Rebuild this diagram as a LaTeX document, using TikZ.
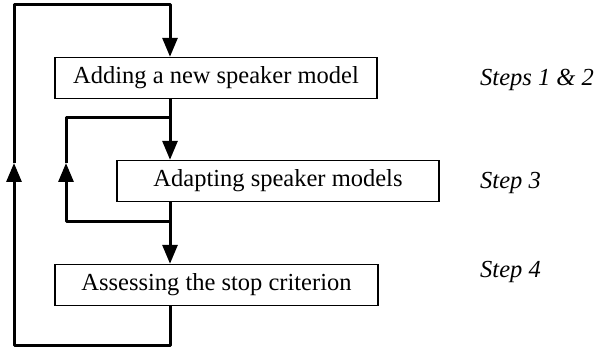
\documentclass[tikz,border=0pt]{standalone}
\usepackage{fontspec}
\setmainfont{Liberation Serif}
\usetikzlibrary{arrows.meta}
\begin{document}
\begin{tikzpicture}[x=1pt,y=-1pt,
  box/.style={draw,line width=1.4pt,minimum height=41pt,inner sep=0pt,font=\fontsize{24.5}{28}\selectfont},
  steplabel/.style={anchor=west,inner sep=0pt,font=\fontsize{24.5}{28}\selectfont\itshape},
  wire/.style={line width=3pt,line join=round},
  flow/.style={wire,-{Triangle[length=19pt,width=15pt]}}]
\useasboundingbox (0,0) rectangle (596,352);
% process boxes
\node[box,minimum width=322pt] (add) at (216,78) {Adding a new speaker model};
\node[box,minimum width=322pt] (adapt) at (278,181) {Adapting speaker models};
\node[box,minimum width=323pt] (assess) at (216.5,285) {Assessing the stop criterion};
% step labels
\node[steplabel] (s12) at (480,80) {Steps 1 \& 2};
\node[steplabel] (s3) at (480,183) {Step 3};
\node[steplabel] (s4) at (480,272) {Step 4};
% trunk and loop coordinates
\coordinate (trunk) at (170,0);
\coordinate (top) at (170,5);
\coordinate (outl) at (14,5);
\coordinate (outtip) at (14,163);
\coordinate (outb) at (14,345);
\coordinate (bot) at (170,345);
\coordinate (splitA) at (170,118);
\coordinate (splitB) at (170,222);
\coordinate (inl) at (66,118);
\coordinate (intip) at (66,163);
\coordinate (inb) at (66,222);
% main flow
\draw[flow] (add.south -| trunk) -- (adapt.north -| trunk);
\draw[flow] (adapt.south -| trunk) -- (assess.north -| trunk);
% inner loop
\draw[flow] (splitB) -- (inb) -- (intip);
\draw[wire] (intip) -- (inl) -- (splitA);
% outer loop
\draw[flow] (assess.south -| trunk) -- (bot) -- (outb) -- (outtip);
\draw[wire] (outtip) -- (outl) -- (top) -- ++(0,10);
\draw[flow] (top) -- (add.north -| trunk);
\end{tikzpicture}
\end{document}
